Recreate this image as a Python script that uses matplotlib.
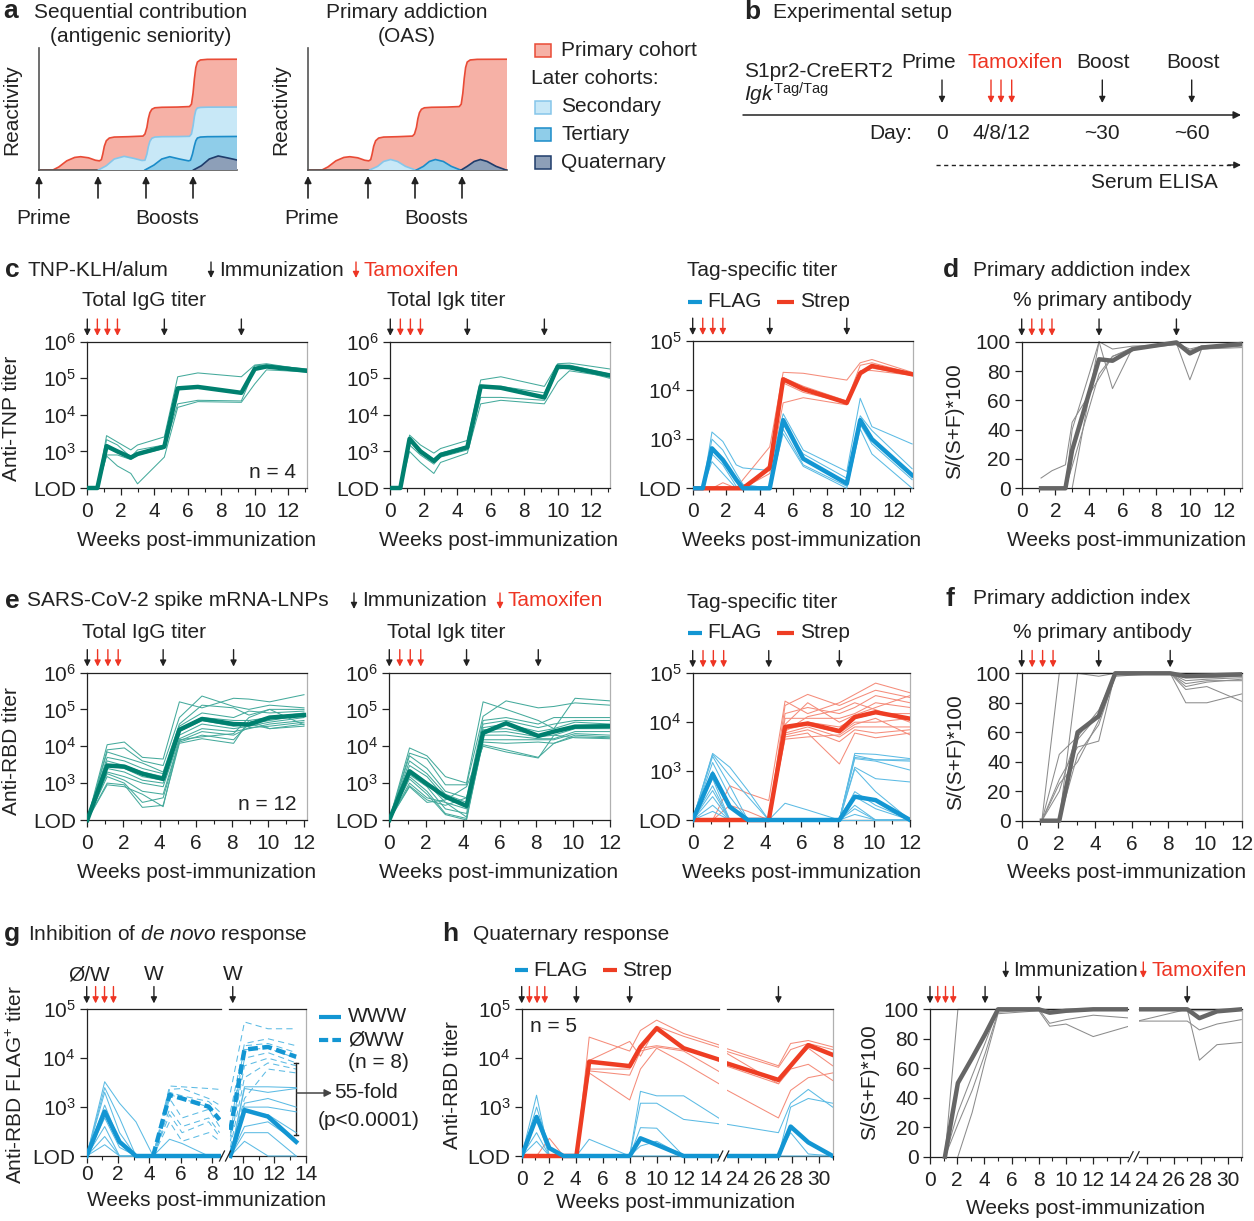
import numpy as np
import matplotlib
matplotlib.use('Agg')
import matplotlib.pyplot as plt
from matplotlib.patches import Rectangle
from matplotlib.ticker import NullLocator, MultipleLocator

plt.rcParams['font.family'] = ['Liberation Sans', 'DejaVu Sans']
plt.rcParams['mathtext.fontset'] = 'custom'
plt.rcParams['mathtext.rm'] = 'Liberation Sans'
plt.rcParams['mathtext.it'] = 'Liberation Sans:italic'
plt.rcParams['mathtext.bf'] = 'Liberation Sans:bold'

nan = np.nan
LOD = 100

# ---------------- panel a schematic (hand drawn cohorts) ----------------
red_x = [0, 0.7, 1.0, 1.4, 1.8, 2.1, 2.5, 2.85, 3.05, 3.15, 3.22, 3.3, 3.4, 3.55, 3.8, 4.5, 5.25,
         5.35, 5.45, 5.52, 5.6, 5.7, 5.85, 6.2, 7.0, 7.6, 7.7, 7.78, 7.85, 7.92, 8.0, 8.15, 8.5, 10]
red_y = [0, 0, 0.25, 0.75, 1.03, 1.09, 1.0, 0.8, 0.75, 0.85, 1.3, 1.95, 2.4, 2.62, 2.7, 2.73, 2.78,
         2.95, 3.5, 4.2, 4.7, 4.98, 5.1, 5.14, 5.16, 5.2, 5.4, 6.3, 7.5, 8.4, 8.85, 9.02, 9.07, 9.08]
sec_x = [3.0, 3.4, 3.8, 4.3, 4.8, 5.2, 5.35, 5.45, 5.52, 5.6, 5.7, 5.85, 6.2, 7.0, 7.6, 7.7, 7.78,
         7.85, 7.92, 8.0, 8.15, 8.5, 10]
sec_y = [0, 0.35, 0.9, 1.12, 0.95, 0.78, 0.8, 1.3, 1.9, 2.35, 2.6, 2.7, 2.73, 2.74, 2.76, 2.95, 3.6,
         4.4, 4.9, 5.08, 5.13, 5.15, 5.16]
ter_x = [5.35, 5.8, 6.2, 6.6, 7.1, 7.55, 7.65, 7.75, 7.85, 7.92, 8.0, 8.15, 8.5, 10]
ter_y = [0, 0.4, 0.9, 1.09, 0.9, 0.75, 0.8, 1.3, 2.0, 2.4, 2.62, 2.7, 2.73, 2.75]
qua_x = [7.8, 8.2, 8.6, 9.05, 9.5, 10]
qua_y = [0, 0.35, 0.9, 1.15, 1.0, 0.82]
oas_sec_x = [3.1, 3.5, 3.8, 4.15, 4.5, 4.9, 5.4]
oas_ter_x = [5.45, 5.8, 6.1, 6.4, 6.8, 7.2, 7.66]
oas_qua_x = [7.7, 8.0, 8.35, 8.66, 9.0, 9.45, 9.95]
oas_bump_y = [0, 0.3, 0.7, 0.86, 0.7, 0.3, 0]

# ---------------- panel c/d : TNP-KLH ----------------
t_c = [0, 0.6, 1.15, 1.8, 2.6, 3.0, 4.6, 5.4, 6.6, 9.2, 10.0, 10.7, 13.1]
c_igg_mean = [100, 100, 1400, 1000, 680, 850, 1350, 5.3e4, 5.8e4, 4.0e4, 1.8e5, 2.1e5, 1.6e5]
c_igg_mice = [
    [100, 100, 2700, 1800, 1100, 1500, 2500, 1.1e5, 1.4e5, 1.1e5, 2.3e5, 2.5e5, 1.7e5],
    [100, 100, 2100, 1500, 700, 1100, 1500, 5e4, 6e4, 4e4, 2.2e5, 2.3e5, 1.8e5],
    [100, 100, 800, 800, 600, 800, 1200, 2e4, 2.5e4, 2.4e4, 1.8e5, 2e5, 1.6e5],
    [100, 100, 750, 400, 250, 130, 700, 1.6e4, 2.3e4, 2.2e4, 7e4, 1.7e5, 1.5e5]]
c_igk_mean = [100, 100, 2200, 1000, 550, 800, 1300, 6e4, 5.5e4, 3e4, 2.1e5, 2e5, 1.2e5]
c_igk_mice = [
    [100, 100, 2800, 1500, 900, 1200, 2000, 9e4, 1.1e5, 6e4, 2.5e5, 2.6e5, 1.8e5],
    [100, 100, 2300, 1100, 600, 900, 1400, 6e4, 6e4, 4e4, 2.2e5, 2.3e5, 1.3e5],
    [100, 100, 1500, 800, 450, 700, 1100, 3e4, 3e4, 2.5e4, 1.8e5, 1.9e5, 1e5],
    [100, 100, 1000, 500, 250, 500, 900, 2e4, 2.5e4, 2e4, 8e4, 1.6e5, 1.1e5]]
c_flag_mean = [100, 100, 650, 380, 150, 100, 100, 2450, 400, 125, 2450, 1000, 185]
c_flag_mice = [
    [100, 100, 1400, 900, 300, 260, 230, 3300, 600, 220, 6800, 1800, 800],
    [100, 100, 1000, 600, 200, 120, 100, 2000, 500, 160, 3000, 1500, 250],
    [100, 100, 500, 300, 110, 100, 100, 1600, 300, 110, 2000, 800, 150],
    [100, 100, 350, 200, 100, 100, 100, 1300, 280, 100, 1600, 500, 100]]
c_strep_mean = [100, 100, 100, 100, 100, 100, 260, 1.66e4, 1.05e4, 5.5e3, 2.2e4, 3.1e4, 2.1e4]
c_strep_mice = [
    [100, 100, 100, 100, 100, 150, 700, 2.3e4, 2.2e4, 1.6e4, 3.6e4, 4.2e4, 2.3e4],
    [100, 100, 100, 100, 100, 100, 300, 1.8e4, 1.2e4, 6000, 3.2e4, 3.6e4, 2.2e4],
    [100, 100, 100, 130, 100, 100, 250, 1.4e4, 9000, 5500, 2.5e4, 2.5e4, 2e4],
    [100, 100, 100, 100, 100, 100, 200, 5500, 7000, 5000, 2.2e4, 2.8e4, 2e4]]
d_mean = [nan, nan, 0, 0, 0, 26, 88, 87, 95, 99.5, 92, 96, 98.5]
d_mice = [
    [nan, nan, 7, 12, 16, 45, 75, 90, 96, 99, 95, 97, 98],
    [nan, nan, nan, nan, 0, 40, 100, 68, 96, 99, 74, 95, 97],
    [nan, nan, nan, nan, nan, 0, 100, 95, 97, 98, 94, 97, 98],
    [nan, nan, nan, nan, 0, 15, 78, 90, 95, 98, 93, 95, 96]]

# ---------------- panel e/f : SARS-CoV-2 ----------------
t_e = [0, 1.1, 2.05, 3.05, 4.2, 5.1, 6.35, 8.1, 8.95, 10.1, 12.0]
e_igg_mean = [100, 3000, 2800, 1800, 1300, 2.8e4, 5.5e4, 4e4, 3.9e4, 6e4, 7e4]
e_igg_mice = [
    [100, 1.1e4, 1.3e4, 5000, 4500, 1.6e5, 1.1e5, 2e5, 1.9e5, 1.6e5, 2.5e5],
    [100, 8000, 9000, 4000, 3000, 6e4, 2.3e5, 1.2e5, 1e5, 1.3e5, 1.1e5],
    [100, 7000, 5000, 3500, 2000, 4e4, 1.3e5, 1.1e5, 7e4, 1e5, 1e5],
    [100, 5000, 4000, 2500, 1800, 3.5e4, 8e4, 6e4, 9e4, 8e4, 9e4],
    [100, 4000, 3000, 2000, 1500, 3e4, 6e4, 5e4, 5e4, 6e4, 8e4],
    [100, 3000, 2500, 1500, 1200, 2.5e4, 5e4, 3.5e4, 4e4, 5e4, 7e4],
    [100, 2500, 2000, 1200, 1000, 2e4, 4e4, 3e4, 3.5e4, 4.5e4, 6e4],
    [100, 2000, 1500, 1000, 800, 1.6e4, 3e4, 2.5e4, 3e4, 4e4, 5e4],
    [100, 1800, 1200, 600, 500, 1.4e4, 2.5e4, 2e4, 3.2e4, 3.5e4, 4.5e4],
    [100, 1500, 1000, 300, 400, 1.3e4, 2e4, 1.5e4, 4e4, 3e4, 4e4],
    [100, 1000, 900, 220, 250, 1.2e4, 1.6e4, 1.2e4, 5e4, 3e4, 3.5e4],
    [100, 900, 800, 500, 230, 1.5e4, 1.8e4, 2.2e4, 6e4, 1e5, 3.8e4]]
e_igk_mean = [100, 2100, 950, 430, 240, 2.3e4, 4.2e4, 1.9e4, 2.5e4, 3.4e4, 3.5e4]
e_igk_mice = [
    [100, 9000, 5500, 1500, 1000, 1.6e5, 1e5, 5e4, 3e4, 2e5, 1.7e5],
    [100, 6500, 4500, 900, 900, 6.5e4, 1.7e5, 1.1e5, 1.2e5, 1.5e5, 1.3e5],
    [100, 5500, 2500, 600, 400, 5e4, 6e4, 4e4, 6e4, 6e4, 6e4],
    [100, 4000, 1800, 500, 300, 4e4, 5e4, 3.2e4, 4e4, 5e4, 5e4],
    [100, 3000, 1500, 400, 250, 3.2e4, 4e4, 2.5e4, 3e4, 4.5e4, 4e4],
    [100, 2200, 1000, 300, 200, 2.8e4, 3e4, 2e4, 2.5e4, 3.5e4, 3.5e4],
    [100, 1700, 800, 200, 150, 2.4e4, 2.5e4, 1.8e4, 2e4, 3e4, 3e4],
    [100, 1500, 600, 150, 110, 2e4, 2e4, 1.6e4, 1.6e4, 2.5e4, 2.5e4],
    [100, 1300, 500, 140, 100, 1.5e4, 1.5e4, 1.5e4, 1.5e4, 2.2e4, 2e4],
    [100, 1000, 400, 300, 120, 1.3e4, 1.2e4, 1.3e4, 1.2e4, 2e4, 1.8e4],
    [100, 850, 350, 250, 400, 1.1e4, 8000, 5000, 1.2e4, 1.8e4, 1.7e4],
    [100, 800, 300, 350, 800, 1e4, 7000, 4800, 2e4, 1.7e4, 1.6e4]]
e_flag_mean = [100, 870, 186, 100, 100, 100, 100, 100, 300, 255, 100]
e_flag_mice = [
    [100, 2300, 1200, 400, 100, 100, 100, 100, 2300, 2200, 1800],
    [100, 2200, 800, 300, 100, 100, 100, 100, 2100, 1700, 1700],
    [100, 2000, 500, 100, 100, 220, 160, 100, 1900, 1700, 1600],
    [100, 1500, 300, 100, 100, 100, 100, 100, 1800, 1600, 1050],
    [100, 1000, 200, 100, 100, 100, 100, 100, 1200, 700, 600],
    [100, 700, 100, 100, 100, 100, 100, 100, 1100, 380, 100],
    [100, 500, 100, 100, 100, 100, 100, 100, 380, 200, 100],
    [100, 400, 100, 100, 100, 100, 100, 100, 300, 170, 100],
    [100, 300, 100, 100, 100, 100, 100, 100, 200, 100, 100],
    [100, 200, 100, 100, 100, 100, 100, 100, 170, 100, 100],
    [100, 150, 100, 100, 100, 100, 100, 100, 130, 100, 100],
    [100, 100, 100, 100, 100, 100, 100, 100, 100, 100, 100]]
e_strep_mean = [100, 100, 100, 100, 100, 8000, 9400, 6600, 1.27e4, 1.6e4, 1.18e4]
e_strep_mice = [
    [100, 100, 500, 350, 250, 2.7e4, 1.5e4, 2.5e4, 3.7e4, 6.3e4, 4e4],
    [100, 100, 200, 150, 100, 2.2e4, 3.7e4, 2.2e4, 3e4, 4.5e4, 3.2e4],
    [100, 100, 100, 100, 100, 1.5e4, 2e4, 1.5e4, 2e4, 3.5e4, 2.5e4],
    [100, 100, 100, 100, 100, 1.2e4, 1.2e4, 1.2e4, 1.5e4, 2.5e4, 2e4],
    [100, 100, 100, 100, 100, 8000, 1e4, 8000, 1.2e4, 1.5e4, 1.5e4],
    [100, 100, 100, 100, 100, 7000, 9000, 6000, 1e4, 1e4, 1.2e4],
    [100, 100, 100, 100, 100, 6000, 8000, 5000, 8000, 8000, 8000],
    [100, 100, 100, 100, 100, 5500, 7000, 4000, 7000, 6000, 7000],
    [100, 100, 100, 100, 100, 5000, 6000, 1400, 6000, 4800, 6000],
    [100, 100, 100, 100, 100, 4500, 5000, 5500, 9000, 1.2e4, 5500],
    [100, 100, 100, 100, 100, 6500, 1.3e4, 1.8e4, 2.5e4, 1.8e4, 1e4],
    [100, 100, 100, 100, 100, 9000, 2.5e4, 1e4, 1.4e4, 2e4, 3.5e4]]
f_mean = [nan, 0, 0, 60, 71, 100, 100, 100, 98, 98.5, 99.3]
f_mice = [
    [nan, 0, 100, 100, 100, 100, 100, 100, 100, 100, 100],
    [nan, nan, 0, 100, 98, 100, 100, 100, 99, 99, 99],
    [nan, 0, 45, 57, 75, 100, 100, 100, 91, 94, 96],
    [nan, 0, 28, 50, 54, 100, 100, 100, 80, 80, 86],
    [nan, 0, 25, 40, 68, 100, 100, 100, 89, 91, 81],
    [nan, nan, 0, 55, 72, 100, 100, 100, 93, 95, 95],
    [nan, 0, 20, 60, 70, 100, 100, 100, 97, 97, 98],
    [nan, nan, 0, 45, 65, 98, 99, 100, 95, 96, 97]]

# ---------------- panel g : de novo inhibition ----------------
t_g = [0, 1.15, 2.1, 3.15, 4.25, 5.3, 6.1, 7.8, 8.5, 9.2, 10.1, 11.6, 13.4]
g_split = 9
g_www_mean = [100, 810, 195, 100, 100, 100, 100, 100, 100, 100, 870, 640, 195]
g_www_mice = [
    [100, 3300, 1200, 500, 100, 100, 100, 100, 100, 100, 2600, 2600, 2500],
    [100, 2500, 600, 100, 100, 220, 180, 100, 100, 100, 2400, 2000, 2400],
    [100, 2000, 300, 100, 100, 100, 100, 100, 100, 100, 1200, 1500, 1000],
    [100, 1100, 200, 100, 100, 100, 100, 100, 100, 100, 1000, 1000, 800],
    [100, 600, 150, 100, 100, 100, 100, 100, 100, 100, 800, 700, 300],
    [100, 400, 100, 100, 100, 100, 100, 100, 100, 100, 400, 500, 200],
    [100, 250, 100, 100, 100, 100, 100, 100, 100, 100, 300, 300, 100],
    [100, 170, 100, 100, 100, 100, 100, 100, 100, 100, 200, 100, 100]]
g_oww_mean = [nan, nan, nan, nan, 100, 1770, 1500, 1020, 550, 340, 1.5e4, 1.7e4, 1.07e4]
g_oww_mice = [
    [nan, nan, nan, nan, 100, 2700, 2600, 2400, 2300, 2000, 5.5e4, 4e4, 4e4],
    [nan, nan, nan, nan, 100, 2300, 2400, 1500, 1100, 800, 2e4, 2.5e4, 1.8e4],
    [nan, nan, nan, nan, 100, 2000, 1700, 1300, 800, 400, 1.8e4, 2e4, 1.3e4],
    [nan, nan, nan, nan, 100, 1800, 1500, 1000, 600, 300, 1.5e4, 1.6e4, 1e4],
    [nan, nan, nan, nan, 100, 1500, 600, 900, 400, 250, 1e4, 1.3e4, 8000],
    [nan, nan, nan, nan, 100, 900, 400, 600, 300, 200, 7000, 1e4, 7000],
    [nan, nan, nan, nan, 100, 700, 300, 500, 250, 150, 4000, 8000, 6000],
    [nan, nan, nan, nan, 100, 500, 200, 300, 200, 120, 1500, 6000, 5000]]
fold_range = [270, 7900]

# ---------------- panel h : quaternary response ----------------
t_h = [0, 1.1, 2.05, 3.1, 4.05, 5.0, 8.0, 8.8, 10.0, 12.0, 14.8, 23.1, 27.0, 27.9, 29.2, 31.0]
h_flag_mean = [100, 630, 145, 100, 100, 100, 100, 230, 170, 100, 100, 100, 100, 400, 190, 100]
h_flag_mice = [
    [100, 1750, 100, 100, 100, 100, 100, 2100, 1700, 1700, 550, 450, 300, 1200, 2300, 1000],
    [100, 1000, 150, 100, 100, 220, 100, 1200, 1200, 560, 450, 100, 100, 1000, 1500, 1200],
    [100, 600, 100, 100, 100, 100, 100, 380, 370, 100, 100, 100, 100, 400, 200, 100],
    [100, 300, 100, 100, 100, 100, 100, 160, 200, 100, 100, 100, 100, 300, 110, 100],
    [100, 200, 100, 100, 100, 100, 100, 100, 100, 100, 100, 100, 100, 100, 100, 100]]
h_strep_mean = [100, 100, 100, 100, 100, 8500, 6900, 1.7e4, 4.1e4, 1.6e4, 9000, 8000, 3600, 7000, 1.85e4, 1.17e4]
h_strep_mice = [
    [100, 100, 230, 100, 100, 2.7e4, 1.4e4, 3.7e4, 6e4, 3.2e4, 1.8e4, 1.6e4, 7000, 2e4, 2.3e4, 1.7e4],
    [100, 100, 100, 100, 100, 9000, 2.2e4, 1.1e4, 4.5e4, 2.8e4, 1.6e4, 1.4e4, 6500, 1.5e4, 2e4, 1.5e4],
    [100, 100, 100, 100, 100, 6000, 6000, 1.6e4, 1.8e4, 1.5e4, 9000, 1.3e4, 3000, 7000, 1.6e4, 7000],
    [100, 100, 100, 100, 100, 5500, 4500, 1.4e4, 1.7e4, 1.4e4, 5000, 7000, 3000, 6000, 7500, 3500],
    [100, 100, 100, 100, 100, 5000, 1400, 6000, 1.6e4, 8000, 2800, 2300, 600, 2200, 4000, 5000]]
h_pct_mean = [nan, 0, 50, 67, 83, 100, 100, 97.7, 99, 100, 100, 100, 100, 94, 98.6, 100]
h_pct_mice = [
    [nan, 0, 100, 100, 100, 100, 100, 100, 100, 100, 100, 100, 100, 100, 100, 100],
    [nan, 0, 22, 45, 70, 98, 100, 90.5, 93, 96, 94, 92, 92, 86, 90, 93],
    [nan, nan, 0, 30, 65, 97, 99, 88.5, 90, 81.5, 89, 91.5, 100, 65.5, 76, 77.5],
    [nan, 0, 30, 55, 77, 100, 100, 99, 99, 100, 100, 100, 99, 99, 99, 100]]

imm_c, tam_c = [0, 4.6, 9.2], [0.6, 1.2, 1.8]
imm_e, tam = [0, 4.2, 8.1], [0.57, 1.14, 1.71]
imm_g = [0, 4.3, 9.35]
imm_h = [0, 4.05, 8.0, 27.0]

TEAL, TEAL_L = '#00806f', '#45aa9c'
BLUE, BLUE_L = '#1396d3', '#5cbbe4'
RED, RED_L = '#ee3d23', '#f58c7a'
GRAY, GRAY_L = '#666666', '#8c8c8c'
K = '#222222'
TXT_RED = '#ee3524'

W, H = 1254, 1221
fig = plt.figure(figsize=(W / 100, H / 100), dpi=100)


def box(r):
    x0, y0, x1, y1 = r
    return fig.add_axes([x0 / W, 1 - y1 / H, (x1 - x0) / W, (y1 - y0) / H])


def style(ax, xlim, xmajor, log_top=None, left=True, right=True, xpad=5):
    ax.set_xlim(*xlim)
    if log_top:
        ax.set_yscale('log')
        ax.set_ylim(LOD, 10 ** log_top)
        ax.set_yticks([LOD] + [10 ** k for k in range(3, log_top + 1)])
        ax.set_yticklabels(['LOD'] + ['$10^{%d}$' % k for k in range(3, log_top + 1)])
        ax.yaxis.set_minor_locator(NullLocator())
    else:
        ax.set_ylim(0, 100)
        ax.set_yticks(range(0, 101, 20))
    ax.set_xticks(xmajor)
    ax.xaxis.set_minor_locator(MultipleLocator(1))
    ax.tick_params(which='major', direction='out', length=5, width=0.9, labelsize=15,
                   pad=3, colors=K)
    ax.tick_params(axis='x', which='major', pad=xpad)
    ax.tick_params(which='minor', direction='out', length=3, width=0.8, colors=K)
    for s in ['left', 'bottom', 'top']:
        ax.spines[s].set_color(K)
        ax.spines[s].set_linewidth(0.9)
    ax.spines['right'].set_color('#b0b0b0')
    ax.spines['right'].set_linewidth(0.9)
    if not left:
        ax.spines['left'].set_visible(False)
        ax.tick_params(axis='y', which='both', left=False, labelleft=False)
    if not right:
        ax.spines['right'].set_visible(False)
    ax.patch.set_alpha(0)


def draw(ax, t, y, color, lw, ls='-', z=2):
    ln, = ax.plot(t, y, color=color, lw=lw, ls=ls, zorder=z, solid_joinstyle='round',
                  dash_joinstyle='round')
    ln.set_clip_path(Rectangle((0, -0.05), 1, 1.1, transform=ax.transAxes))


def group(ax, t, mice, mean, thin, thick, ls=('-', '-'), z=2):
    for m in mice:
        draw(ax, t, m, thin, 0.75, ls[0], z)
    draw(ax, t, mean, thick, 3.2, ls[1], z + 2)


def arrows(ax, weeks, color):
    for w in weeks:
        if ax.get_xlim()[0] - 0.01 <= w <= ax.get_xlim()[1]:
            ax.annotate('', xy=(w, 1.04), xytext=(w, 1.155),
                        xycoords=('data', 'axes fraction'),
                        arrowprops=dict(arrowstyle='-|>', color=color, lw=1.0,
                                        mutation_scale=9, shrinkA=0, shrinkB=0),
                        annotation_clip=False)


# ---------------- panel a ----------------
for rect, oas in [((39, 48, 237, 170), False), ((308, 48, 507, 170), True)]:
    ax = box(rect)
    ax.set_xlim(0, 10)
    ax.set_ylim(0, 10)
    ax.set_xticks([])
    ax.set_yticks([])
    for s in ['top', 'right']:
        ax.spines[s].set_visible(False)
    for s in ['left', 'bottom']:
        ax.spines[s].set_color('#555555')
        ax.spines[s].set_linewidth(1.2)
    ax.patch.set_alpha(0)
    ax.fill_between(red_x, 0, red_y, facecolor='#f6b1a6', edgecolor='none', zorder=1)
    ax.plot(red_x, red_y, color='#e94b36', lw=1.2, zorder=2)
    if oas:
        layers = [(oas_sec_x, oas_bump_y, '#c8e8f7', '#86c6ea'),
                  (oas_ter_x, oas_bump_y, '#8fcde9', '#1b8cc9'),
                  (oas_qua_x, oas_bump_y, '#8d9fb8', '#1f3c6b')]
    else:
        layers = [(sec_x, sec_y, '#c8e8f7', '#86c6ea'),
                  (ter_x, ter_y, '#8fcde9', '#1b8cc9'),
                  (qua_x, qua_y, '#8d9fb8', '#1f3c6b')]
    for i, (lx, ly, fc, ec) in enumerate(layers):
        ax.fill_between(lx, 0, ly, facecolor=fc, edgecolor='none', zorder=3 + 2 * i)
        ax.plot(lx, ly, color=ec, lw=1.2, zorder=4 + 2 * i)

# ---------------- panel c ----------------
C1 = box((87.3, 341.7, 307, 488))
style(C1, (0, 13.12), range(0, 13, 2), log_top=6)
group(C1, t_c, c_igg_mice, c_igg_mean, TEAL_L, TEAL)
C2 = box((390.3, 341.7, 610, 488))
style(C2, (0, 13.12), range(0, 13, 2), log_top=6)
group(C2, t_c, c_igk_mice, c_igk_mean, TEAL_L, TEAL)
C3 = box((692.7, 341, 913.3, 488.3))
style(C3, (0, 13.17), range(0, 13, 2), log_top=5)
group(C3, t_c, c_strep_mice, c_strep_mean, RED_L, RED, z=2)
group(C3, t_c, c_flag_mice, c_flag_mean, BLUE_L, BLUE, z=3)
D = box((1021.7, 341.7, 1242, 488.3))
style(D, (0, 13.1), range(0, 13, 2))
group(D, t_c, d_mice, d_mean, GRAY_L, GRAY)
for ax in (C1, C2, C3, D):
    arrows(ax, imm_c, K)
    arrows(ax, tam_c, TXT_RED)

# ---------------- panel e ----------------
E1 = box((87.3, 672.5, 306.7, 820))
style(E1, (0, 12.15), range(0, 13, 2), log_top=6)
group(E1, t_e, e_igg_mice, e_igg_mean, TEAL_L, TEAL)
E2 = box((389.3, 672.5, 610, 820))
style(E2, (0, 12.0), range(0, 13, 2), log_top=6)
group(E2, t_e, e_igk_mice, e_igk_mean, TEAL_L, TEAL)
E3 = box((692.7, 673.3, 910, 820))
style(E3, (0, 12.0), range(0, 13, 2), log_top=5)
group(E3, t_e, e_strep_mice, e_strep_mean, RED_L, RED, z=2)
group(E3, t_e, e_flag_mice, e_flag_mean, BLUE_L, BLUE, z=3)
F = box((1021.7, 673.3, 1241.7, 820.7))
style(F, (0, 12.0), range(0, 13, 2))
group(F, t_e, f_mice, f_mean, GRAY_L, GRAY)
for ax in (E1, E2, E3, F):
    arrows(ax, imm_e, K)
    arrows(ax, tam, TXT_RED)

# ---------------- panel g ----------------
GL = box((86.7, 1009.3, 220.7, 1156))
style(GL, (0, 8.57), range(0, 9, 2), log_top=5, right=False, xpad=1.5)
GR = box((229.3, 1009.3, 306, 1156))
style(GR, (9.13, 14.03), [10, 12, 14], log_top=5, left=False, xpad=1.5)
for ax, sl in [(GL, slice(0, g_split)), (GR, slice(g_split, None))]:
    tt = t_g[sl]
    group(ax, tt, [m[sl] for m in g_oww_mice], g_oww_mean[sl], BLUE_L, BLUE,
          ls=((0, (6, 4)), (0, (2.2, 1.0))), z=2)
    group(ax, tt, [m[sl] for m in g_www_mice], g_www_mean[sl], BLUE_L, BLUE, z=3)
    arrows(ax, imm_g, K)
arrows(GL, tam, TXT_RED)
GR.plot([t_g[-1]] * 2, fold_range, color=K, lw=1, clip_on=False)
for v in fold_range:
    GR.plot([t_g[-1] - 0.12, t_g[-1] + 0.12], [v, v], color=K, lw=1, clip_on=False)

# ---------------- panel h ----------------
H1L = box((521.7, 1009.3, 719.3, 1156))
style(H1L, (0, 14.64), range(0, 15, 2), log_top=5, right=False)
H1R = box((727.3, 1009.3, 832.7, 1156))
style(H1R, (23.23, 31.0), [24, 26, 28, 30], log_top=5, left=False)
H2L = box((930, 1009.3, 1128.3, 1156.7))
style(H2L, (0, 14.58), range(0, 15, 2), right=False)
H2R = box((1139, 1009.3, 1241.7, 1156.7))
style(H2R, (23.43, 31.03), [24, 26, 28, 30], left=False)
for ax in (H1L, H1R):
    group(ax, t_h, h_strep_mice, h_strep_mean, RED_L, RED, z=2)
    group(ax, t_h, h_flag_mice, h_flag_mean, BLUE_L, BLUE, z=3)
for ax in (H2L, H2R):
    group(ax, t_h, h_pct_mice, h_pct_mean, GRAY_L, GRAY)
for ax in (H1L, H1R, H2L, H2R):
    arrows(ax, imm_h, K)
for ax in (H1L, H2L):
    arrows(ax, tam, TXT_RED)

# ---------------- overlay: text, legends, schematic annotations ----------------
ov = fig.add_axes([0, 0, 1, 1], zorder=20)
ov.set_xlim(0, W)
ov.set_ylim(H, 0)
ov.axis('off')


def T(x, y, s, ha='left', size=15, **kw):
    ov.text(x, y, s, ha=ha, va='center', fontsize=size, color=kw.pop('color', K), **kw)


def down(x, y0, y1, color=K):
    ov.annotate('', xy=(x, y1), xytext=(x, y0),
                arrowprops=dict(arrowstyle='-|>', color=color, lw=1.0, mutation_scale=9,
                                shrinkA=0, shrinkB=0))


def hline(x0, x1, y, color, ls='-'):
    ov.plot([x0, x1], [y, y], color=color, lw=3, ls=ls, solid_capstyle='butt')


def letter(x, y, s):
    T(x, y, s, size=19, fontweight='bold')


# a
letter(3, 11, 'a')
T(140.5, 12, 'Sequential contribution', ha='center')
T(140.5, 37, '(antigenic seniority)', ha='center')
T(407, 12, 'Primary addiction', ha='center')
T(407, 37, '(OAS)', ha='center')
T(12, 110, 'Reactivity', ha='center', rotation=90)
T(281, 110, 'Reactivity', ha='center', rotation=90)
for x in [39, 98, 146, 193, 308, 368, 415, 462]:
    ov.annotate('', xy=(x, 176), xytext=(x, 198),
                arrowprops=dict(arrowstyle='-|>', color=K, lw=1.2, mutation_scale=10,
                                shrinkA=0, shrinkB=0))
T(43.5, 218, 'Prime', ha='center')
T(167, 218, 'Boosts', ha='center')
T(312, 218, 'Prime', ha='center')
T(436, 218, 'Boosts', ha='center')
leg_a = [(50, 'Primary cohort', '#f6b1a6', '#e94b36'),
         (107, 'Secondary', '#c8e8f7', '#86c6ea'),
         (134, 'Tertiary', '#8fcde9', '#1b8cc9'),
         (162, 'Quaternary', '#8d9fb8', '#1f3c6b')]
for y, s, fc, ec in leg_a:
    ov.add_patch(Rectangle((535, y - 6.5), 16, 13, facecolor=fc, edgecolor=ec, lw=1.1))
    T(561, y, s)
T(531, 79, 'Later cohorts:')

# b
letter(744, 12, 'b')
T(772.7, 13, 'Experimental setup')
T(744, 71.7, 'S1pr2-CreERT2')
T(744, 94, r'$\mathit{Igk}^{\mathrm{Tag/Tag}}$')
ov.annotate('', xy=(1241, 115), xytext=(743, 115),
            arrowprops=dict(arrowstyle='-|>', color=K, lw=1.1, mutation_scale=11,
                            shrinkA=0, shrinkB=0))
T(929, 62, 'Prime', ha='center')
down(942, 80, 103)
T(1015.5, 62, 'Tamoxifen', ha='center', color=TXT_RED)
for x in [991, 1001, 1011.7]:
    down(x, 80, 103, TXT_RED)
T(1102.5, 62, 'Boost', ha='center')
down(1102.3, 80, 103)
T(1192.5, 62, 'Boost', ha='center')
down(1191.7, 80, 103)
T(912.7, 133.3, 'Day:', ha='right')
T(942.3, 133.3, '0', ha='center')
T(1001.3, 133.3, '4/8/12', ha='center')
T(1101.7, 133.3, '~30', ha='center')
T(1191.7, 133.3, '~60', ha='center')
ov.plot([936, 1232], [165, 165], color=K, lw=1, ls=(0, (3, 2.5)))
ov.annotate('', xy=(1241, 165), xytext=(1228, 165),
            arrowprops=dict(arrowstyle='-|>', color=K, lw=1.0, mutation_scale=10,
                            shrinkA=0, shrinkB=0))
T(1154, 182.7, 'Serum ELISA', ha='center')

# c / d headers
letter(5, 270, 'c')
T(27, 270, 'TNP-KLH/alum')
down(211, 262, 278)
T(219, 270, 'Immunization')
down(356, 262, 278, TXT_RED)
T(364, 270, 'Tamoxifen', color=TXT_RED)
T(144.5, 301, 'Total IgG titer', ha='center')
T(446.5, 301, 'Total Igk titer', ha='center')
T(687, 270, 'Tag-specific titer')
hline(687.7, 701.7, 301.7, BLUE)
T(707, 301.7, 'FLAG')
hline(777, 794, 301.7, RED)
T(800, 301.7, 'Strep')
letter(943, 270, 'd')
T(973, 270, 'Primary addiction index')
T(1102, 301, '% primary antibody', ha='center')
T(12, 418, 'Anti-TNP titer', ha='center', rotation=90)
T(955, 421, 'S/(S+F)*100', ha='center', rotation=90)
T(296, 472, 'n = 4', ha='right')
for xc in [197, 499, 802, 1127]:
    T(xc, 540, 'Weeks post-immunization', ha='center')

# e / f headers
letter(5, 601, 'e')
T(27, 601, 'SARS-CoV-2 spike mRNA-LNPs')
down(354, 593, 609)
T(362, 601, 'Immunization')
down(500, 593, 609, TXT_RED)
T(508, 601, 'Tamoxifen', color=TXT_RED)
T(144.5, 632, 'Total IgG titer', ha='center')
T(446.5, 632, 'Total Igk titer', ha='center')
T(687, 602, 'Tag-specific titer')
hline(687.7, 701.7, 633, BLUE)
T(707, 633, 'FLAG')
hline(777, 794, 633, RED)
T(800, 633, 'Strep')
letter(945, 599, 'f')
T(973, 599, 'Primary addiction index')
T(1102, 632, '% primary antibody', ha='center')
T(12, 751, 'Anti-RBD titer', ha='center', rotation=90)
T(956, 752, 'S/(S+F)*100', ha='center', rotation=90)
T(296, 804, 'n = 12', ha='right')
for xc in [197, 499, 802, 1127]:
    T(xc, 872, 'Weeks post-immunization', ha='center')

# g
letter(4, 934, 'g')
T(28, 934, r'Inhibition of $\mathit{de\ novo}$ response')
T(89, 975, 'Ø/W', ha='center')
T(154, 975, 'W', ha='center')
T(233, 975, 'W', ha='center')
T(16, 1085, r'Anti-RBD FLAG$^{+}$ titer', ha='center', rotation=90)
hline(319, 341, 1016.7, BLUE)
T(348, 1016.7, 'WWW')
hline(319, 341, 1040, BLUE, ls=(0, (2.2, 1.0)))
T(348, 1040, 'ØWW')
T(348, 1062, '(n = 8)')
ov.annotate('', xy=(332, 1093), xytext=(297, 1093),
            arrowprops=dict(arrowstyle='-|>', color='#444444', lw=1.1, mutation_scale=11,
                            shrinkA=0, shrinkB=0))
T(334, 1093, '55-fold')
T(318, 1120, '(p<0.0001)')
T(207, 1200, 'Weeks post-immunization', ha='center')

# h
letter(442, 934, 'h')
T(473, 934, 'Quaternary response')
hline(515, 528, 970, BLUE)
T(533, 970, 'FLAG')
hline(603, 617, 970, RED)
T(622, 970, 'Strep')
T(530, 1027, 'n = 5')
T(453, 1085, 'Anti-RBD titer', ha='center', rotation=90)
T(870, 1082, 'S/(S+F)*100', ha='center', rotation=90)
down(1005.7, 962, 978)
T(1013, 970, 'Immunization')
down(1143.3, 962, 978, TXT_RED)
T(1151.7, 970, 'Tamoxifen', color=TXT_RED)
T(676, 1203, 'Weeks post-immunization', ha='center')
T(1086, 1208, 'Weeks post-immunization', ha='center')

# axis break marks
for xg, yb in [(225, 1156), (723.3, 1156), (1133.6, 1156.7)]:
    for dx in (-3, 3):
        ov.plot([xg + dx - 2.5, xg + dx + 2.5], [yb + 5, yb - 5], color=K, lw=0.9)

fig.savefig('out.png', dpi=100)
